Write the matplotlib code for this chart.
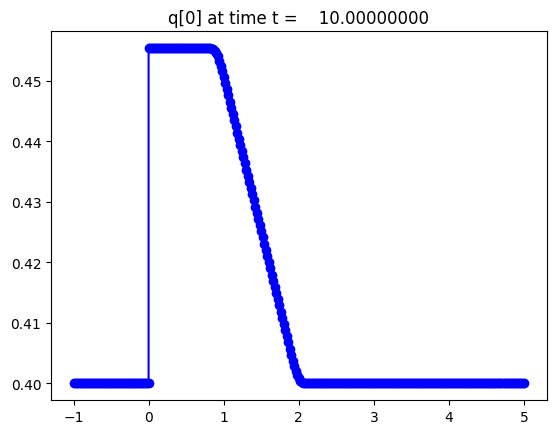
import numpy as np
import matplotlib
matplotlib.use("Agg")
from matplotlib import pyplot as plt

# solution q[0] at t = 10
t_final = 10.0
q_low = 0.4
q_high = 0.4554
dx = 0.02

# flat parts: (start, end, value)
left_flat = (-1.00, 0.00, q_low)
plateau = (0.00, 0.74, q_high)
right_flat = (2.14, 5.00, q_low)

# sloping part of the pulse
ramp_x = [0.76, 0.78, 0.80, 0.82, 0.84, 0.86, 0.88, 0.90, 0.92, 0.94,
          0.96, 0.98, 1.00, 1.02, 1.04, 1.06, 1.08, 1.10, 1.12, 1.14,
          1.16, 1.18, 1.20, 1.22, 1.24, 1.26, 1.28, 1.30, 1.32, 1.34,
          1.36, 1.38, 1.40, 1.42, 1.44, 1.46, 1.48, 1.50, 1.52, 1.54,
          1.56, 1.58, 1.60, 1.62, 1.64, 1.66, 1.68, 1.70, 1.72, 1.74,
          1.76, 1.78, 1.80, 1.82, 1.84, 1.86, 1.88, 1.90, 1.92, 1.94,
          1.96, 1.98, 2.00, 2.02, 2.04, 2.06, 2.08, 2.10, 2.12]
ramp_q = [0.45540, 0.45540, 0.45538, 0.45536, 0.45529, 0.45515, 0.45491, 0.45453, 0.45399, 0.45329,
          0.45246, 0.45155, 0.45058, 0.44958, 0.44857, 0.44755, 0.44653, 0.44551, 0.44449, 0.44347,
          0.44245, 0.44143, 0.44041, 0.43939, 0.43837, 0.43735, 0.43633, 0.43531, 0.43429, 0.43327,
          0.43225, 0.43123, 0.43021, 0.42919, 0.42817, 0.42715, 0.42613, 0.42511, 0.42409, 0.42307,
          0.42205, 0.42103, 0.42001, 0.41899, 0.41797, 0.41695, 0.41593, 0.41491, 0.41389, 0.41287,
          0.41185, 0.41083, 0.40981, 0.40879, 0.40777, 0.40675, 0.40572, 0.40472, 0.40376, 0.40285,
          0.40203, 0.40135, 0.40083, 0.40046, 0.40023, 0.40010, 0.40004, 0.40001, 0.40000]


def flat(seg):
    a, b, v = seg
    xs = np.arange(a, b + dx / 2, dx)
    return list(xs), [v] * len(xs)


xl, ql = flat(left_flat)
xp, qp = flat(plateau)
xr, qr = flat(right_flat)
x = xl + xp + ramp_x + xr
q = ql + qp + ramp_q + qr

fig = plt.figure(figsize=(5.56, 4.35), dpi=100)
ax = fig.add_subplot(111)
fig.subplots_adjust(left=0.0917, right=0.983, bottom=0.078, top=0.926)

ax.plot(x, q, 'bo-')
ax.set_title('q[0] at time t = %14.8f' % t_final)

fig.savefig("out.png", dpi=100)
